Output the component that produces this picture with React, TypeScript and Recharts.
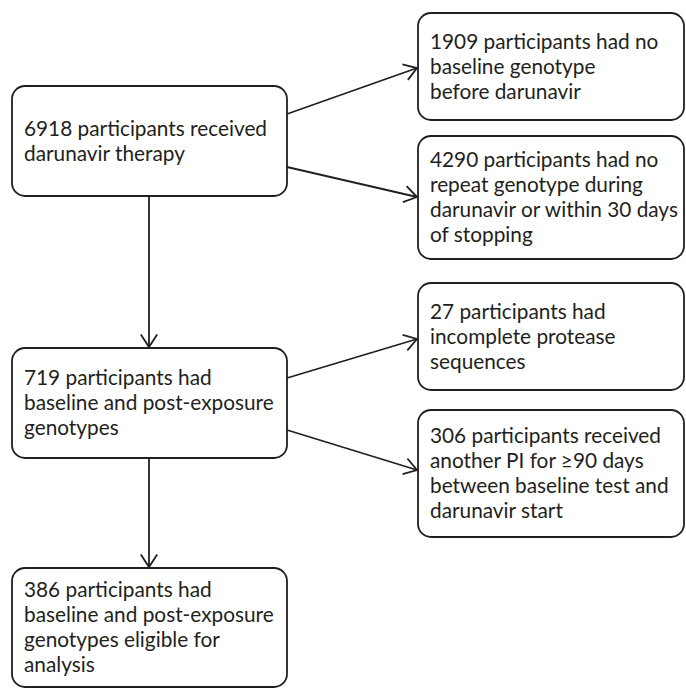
import { ComposedChart, ReferenceArea, ReferenceLine, XAxis, YAxis } from 'recharts';

const W = 686;
const H = 689;
const INK = '#231f20';
const FONT = 'Lato, "Open Sans", sans-serif';

// box texts, in reading order
const boxLines: string[][] = [
  ['6918 participants received', 'darunavir therapy'],
  ['1909 participants had no', 'baseline genotype', 'before darunavir'],
  ['4290 participants had no', 'repeat genotype during', 'darunavir or within 30 days', 'of stopping'],
  ['719 participants had', 'baseline and post-exposure', 'genotypes'],
  ['27 participants had', 'incomplete protease', 'sequences'],
  ['306 participants received', 'another PI for \u226590 days', 'between baseline test and', 'darunavir start'],
  ['386 participants had', 'baseline and post-exposure', 'genotypes eligible for', 'analysis'],
];

// box extents in chart units
const boxX1 = [12, 418, 418, 12, 418, 418, 12];
const boxX2 = [287, 684, 684, 287, 684, 684, 287];
const boxY1 = [86, 13, 136, 348, 283, 410, 568];
const boxY2 = [196, 120, 259, 458, 390, 537, 687];

// arrows: start / end points in chart units
const arrowFrom = [
  { x: 287, y: 114 },
  { x: 287, y: 167 },
  { x: 149, y: 196 },
  { x: 287, y: 378 },
  { x: 287, y: 430 },
  { x: 149, y: 458 },
];
const arrowTo = [
  { x: 417, y: 68 },
  { x: 417, y: 197 },
  { x: 149, y: 347 },
  { x: 417, y: 339 },
  { x: 417, y: 470 },
  { x: 149, y: 567 },
];

const LINE_H = 25;

function Box(props: any) {
  const { x, y, width, height, lines } = props;
  const cy = y + height / 2;
  const first = cy - ((lines.length - 1) * LINE_H) / 2 + 7;
  return (
    <g>
      <rect x={x} y={y} width={width} height={height} rx={13} ry={13} fill="#fff" stroke={INK} strokeWidth={1.8} />
      <text x={x + 12} y={first} fill={INK} fontFamily={FONT} fontSize={20.8}>
        {lines.map((l: string, i: number) => (
          <tspan key={i} x={x + 12} y={first + i * LINE_H}>
            {l}
          </tspan>
        ))}
      </text>
    </g>
  );
}

function Arrow(props: any) {
  const { x1, y1, x2, y2 } = props;
  if ([x1, y1, x2, y2].some((v) => v == null || Number.isNaN(v))) return <g />;
  const ang = Math.atan2(y2 - y1, x2 - x1);
  const len = 15;
  const spread = (33 * Math.PI) / 180;
  const ax = x2 - len * Math.cos(ang - spread);
  const ay = y2 - len * Math.sin(ang - spread);
  const bx = x2 - len * Math.cos(ang + spread);
  const by = y2 - len * Math.sin(ang + spread);
  return (
    <g>
      <line x1={x1} y1={y1} x2={x2} y2={y2} stroke={INK} strokeWidth={1.8} />
      <polyline points={`${ax},${ay} ${x2},${y2} ${bx},${by}`} fill="none" stroke={INK} strokeWidth={1.8} />
    </g>
  );
}

export default function App() {
  return (
    <div style={{ width: W, height: H, background: '#fff' }}>
      <style>{'body{margin:0;background:#fff}'}</style>
      <ComposedChart width={W} height={H} data={[]} margin={{ top: 0, right: 0, bottom: 0, left: 0 }}>
        <XAxis type="number" dataKey="x" domain={[0, W]} allowDataOverflow hide />
        <YAxis type="number" dataKey="y" domain={[0, H]} allowDataOverflow reversed hide />
        {arrowFrom.map((p, i) => (
          <ReferenceLine
            key={`a${i}`}
            segment={[p, arrowTo[i]]}
            ifOverflow="visible"
            shape={(sp: any) => <Arrow {...sp} />}
          />
        ))}
        {boxLines.map((lines, i) => (
          <ReferenceArea
            key={`b${i}`}
            x1={boxX1[i]}
            x2={boxX2[i]}
            y1={boxY1[i]}
            y2={boxY2[i]}
            ifOverflow="visible"
            shape={(sp: any) => <Box {...sp} lines={lines} />}
          />
        ))}
      </ComposedChart>
    </div>
  );
}
